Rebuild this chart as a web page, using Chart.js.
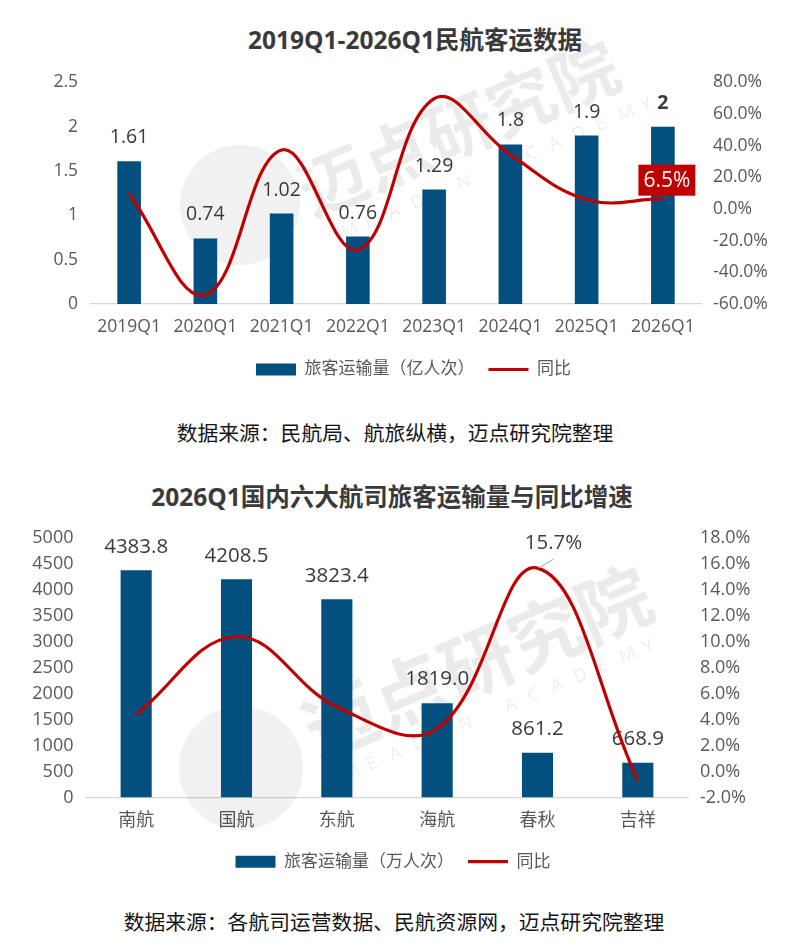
<!DOCTYPE html>
<html><head><meta charset="utf-8">
<script src="https://cdn.jsdelivr.net/npm/chart.js@4.4.1/dist/chart.umd.min.js"></script>
<style>
html,body{margin:0;padding:0;background:#fff;}
body{width:800px;height:952px;position:relative;overflow:hidden;font-family:"Open Sans","Noto Sans CJK SC",sans-serif;}
.t{position:absolute;left:0;width:800px;text-align:center;white-space:nowrap;}
.title{font-weight:bold;font-size:24.5px;line-height:30px;color:#3a3a3a;}
.src{font-size:20.8px;line-height:26px;color:#151515;}
canvas{position:absolute;left:0;}
</style></head>
<body>
<div class="t title" style="top:25px;left:15px">2019Q1-2026Q1民航客运数据</div>
<canvas id="c1" width="800" height="400" style="top:0"></canvas>
<div class="t src" style="top:420px;left:-5px">数据来源：民航局、航旅纵横，迈点研究院整理</div>
<div class="t title" style="top:482px;left:-8px">2026Q1国内六大航司旅客运输量与同比增速</div>
<canvas id="c2" width="800" height="440" style="top:460px"></canvas>
<div class="t src" style="top:909px;left:-6px">数据来源：各航司运营数据、民航资源网，迈点研究院整理</div>
<script>
// ---------- data ----------
const categories1 = ['2019Q1','2020Q1','2021Q1','2022Q1','2023Q1','2024Q1','2025Q1','2026Q1'];
const volume1 = [1.61, 0.74, 1.02, 0.76, 1.29, 1.8, 1.9, 2];
const volumeLabels1 = ['1.61','0.74','1.02','0.76','1.29','1.8','1.9','2'];
const yoy1 = [9.6, -54.2, 37.3, -25.9, 69.7, 34.3, 6.0, 6.5];
const leftTicks1 = {min:0, max:2.5, step:0.5};
const rightTicks1 = {min:-60, max:80, step:20};

const categories2 = ['南航','国航','东航','海航','春秋','吉祥'];
const volume2 = [4383.8, 4208.5, 3823.4, 1819.0, 861.2, 668.9];
const volumeLabels2 = ['4383.8','4208.5','3823.4','1819.0','861.2','668.9'];
const yoy2 = [4.4, 10.4, 5.0, 3.3, 15.7, -0.7];
const leftTicks2 = {min:0, max:5000, step:500};
const rightTicks2 = {min:-2, max:18, step:2};

const FONT = '"Open Sans","Noto Sans CJK SC",sans-serif';
const BAR = '#03507f';
const RED = '#c00000';
const TXT = '#595959';

// ---------- plugins ----------
const barLabels = {
  id:'barLabels',
  afterDatasetDraw(chart, args, opts){
    if (args.index !== 0) return;
    const ctx = chart.ctx;
    ctx.save();
    ctx.textAlign='center'; ctx.textBaseline='middle'; ctx.fillStyle=opts.color;
    args.meta.data.forEach((bar,i)=>{
      ctx.font = ((opts.bold||[])[i] ? 'bold ' : '') + opts.size + 'px ' + FONT;
      ctx.fillText(opts.labels[i], bar.x, bar.y - opts.offset);
    });
    ctx.restore();
  }
};
const callouts = {
  id:'callouts',
  afterDatasetsDraw(chart, args, opts){
    const ctx = chart.ctx;
    const meta = chart.getDatasetMeta(1);
    ctx.save();
    (opts.items||[]).forEach(it=>{
      const p = meta.data[it.index];
      ctx.font = it.size + 'px ' + FONT;
      ctx.textAlign='center'; ctx.textBaseline='middle';
      if (it.box) {
        const w = ctx.measureText(it.text).width + 10, h = 31;
        const cx = p.x + it.dx, cy = p.y + it.dy;
        ctx.fillStyle = RED;
        ctx.fillRect(cx - w/2, cy - h/2, w, h);
        ctx.fillStyle = '#fff';
        ctx.fillText(it.text, cx, cy + 1);
      } else {
        ctx.strokeStyle = '#a6a6a6'; ctx.lineWidth = 1;
        ctx.beginPath(); ctx.moveTo(p.x + 1, p.y); ctx.lineTo(p.x + 16, p.y - 9); ctx.stroke();
        ctx.fillStyle = '#404040';
        ctx.fillText(it.text, p.x + it.dx, p.y + it.dy);
      }
    });
    ctx.restore();
  }
};
const watermark = {
  id:'watermark',
  beforeDatasetsDraw(chart, args, o){
    const ctx = chart.ctx;
    ctx.save();
    ctx.fillStyle='rgba(0,0,0,0.055)';
    ctx.beginPath(); ctx.arc(o.cx, o.cy, o.r, 0, Math.PI*2); ctx.fill();
    ctx.translate(o.tx, o.ty); ctx.rotate(-o.angle*Math.PI/180);
    ctx.fillStyle='rgba(0,0,0,0.08)';
    ctx.font='bold ' + o.size + 'px "Noto Sans CJK SC"';
    ctx.textBaseline='alphabetic'; ctx.textAlign='left';
    ctx.fillText('迈点研究院', 0, 0);
    ctx.font='18px "Open Sans"';
    ctx.fillStyle='rgba(0,0,0,0.07)';
    const s = 'MEADIN ACADEMY';
    for (let i=0;i<s.length;i++) ctx.fillText(s[i], o.lx + i*o.ls, o.ly);
    ctx.restore();
  }
};

function legendLabels(){
  return {
    color: TXT, font:{size:17, family:FONT}, usePointStyle:true, pointStyleWidth:40, boxHeight:12, padding:14,
    sort:(a,b)=>a.datasetIndex-b.datasetIndex,
    generateLabels(chart){
      const items = Chart.defaults.plugins.legend.labels.generateLabels(chart);
      items.forEach(it=>{ it.pointStyle = it.datasetIndex===0 ? 'rect' : 'line'; });
      return items;
    }
  };
}

function makeChart(id, cfg){
  return new Chart(document.getElementById(id), {
    data:{
      labels: cfg.categories,
      datasets:[
        {type:'bar', label:cfg.barLabel, data:cfg.volume, backgroundColor:BAR, borderWidth:0,
         yAxisID:'y', categoryPercentage:1, barPercentage:0.31, order:1},
        {type:'line', label:'同比', data:cfg.yoy, borderColor:RED, backgroundColor:RED, borderWidth:3.2,
         pointRadius:0, tension:cfg.tension, yAxisID:'y1', order:0, fill:false}
      ]
    },
    options:{
      responsive:false, animation:false, devicePixelRatio:1,
      layout:{padding:cfg.padding},
      plugins:{
        legend:{position:'bottom', labels:legendLabels()},
        tooltip:{enabled:false},
        barLabels:{labels:cfg.labels, size:cfg.labelSize, offset:23.5, color:'#3a3a3a', bold:cfg.bold},
        callouts:{items:cfg.callouts},
        watermark:cfg.wm
      },
      scales:{
        x:{grid:{display:false, drawTicks:false}, border:{display:true, color:'#d6d6d6', width:1.2},
           ticks:{color:TXT, font:{size:cfg.tickSize, family:FONT}, padding:cfg.xPad, maxRotation:0},
           afterFit(s){ s.height = cfg.xHeight; }},
        y:{position:'left', min:cfg.lt.min, max:cfg.lt.max, grid:{display:false, drawTicks:false}, border:{display:false},
           ticks:{stepSize:cfg.lt.step, color:TXT, font:{size:cfg.tickSize, family:FONT}, padding:cfg.lPad,
                  callback:v=>String(+v.toFixed(2))},
           afterFit(s){ s.width = cfg.lWidth; }},
        y1:{position:'right', min:cfg.rt.min, max:cfg.rt.max, grid:{display:false, drawTicks:false}, border:{display:false},
           ticks:{stepSize:cfg.rt.step, color:TXT, font:{size:cfg.tickSize, family:FONT}, padding:cfg.rPad,
                  callback:v=>v.toFixed(1)+'%'},
           afterFit(s){ s.width = cfg.rWidth; }}
      }
    },
    plugins:[watermark, barLabels, callouts]
  });
}

makeChart('c1', {
  categories:categories1, volume:volume1, yoy:yoy1, labels:volumeLabels1, barLabel:'旅客运输量（亿人次）',
  lt:leftTicks1, rt:rightTicks1, tension:0.4,
  padding:{top:82.3, left:27, right:0, bottom:12},
  lWidth:64, rWidth:99, lPad:13, rPad:12, xPad:13, xHeight:43, tickSize:17.5, labelSize:19.5,
  bold:[false,false,false,false,false,false,false,true],
  callouts:[{index:7, text:'6.5%', size:21, box:true, dx:4, dy:-18.5}],
  wm:{cx:240, cy:205, r:60, tx:312, ty:218, angle:23, size:68, lx:22, ly:32, ls:25}
});
makeChart('c2', {
  categories:categories2, volume:volume2, yoy:yoy2, labels:volumeLabels2, barLabel:'旅客运输量（万人次）',
  lt:leftTicks2, rt:rightTicks2, tension:0.4,
  padding:{top:78.3, left:0, right:14, bottom:19.8},
  lWidth:86, rWidth:98, lPad:12.5, rPad:12, xPad:13, xHeight:41.8, tickSize:18, labelSize:20.5,
  bold:[],
  callouts:[{index:4, text:'15.7%', size:20.5, box:false, dx:16, dy:-25}],
  wm:{cx:241, cy:308, r:62, tx:318, ty:300, angle:23, size:74, lx:18, ly:30, ls:25}
});
</script>
</body></html>
